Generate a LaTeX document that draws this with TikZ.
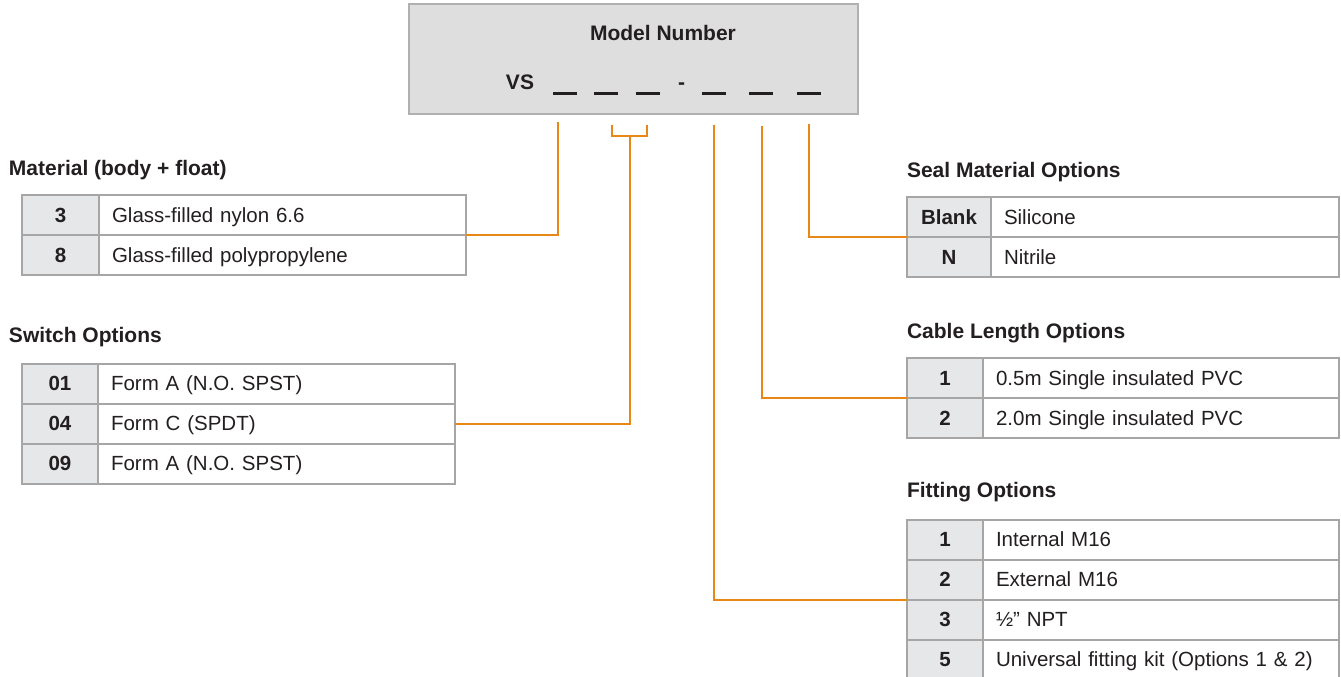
\documentclass[tikz,border=0pt]{standalone}
\usepackage{fontspec}
\setmainfont{Liberation Sans}
\definecolor{orng}{RGB}{232,135,22}
\definecolor{tblline}{RGB}{166,166,166}
\definecolor{keyfill}{RGB}{230,231,232}
\definecolor{boxfill}{RGB}{222,222,222}
\definecolor{boxline}{RGB}{176,176,176}
\definecolor{txt}{RGB}{35,31,32}
\newcommand{\cellstrut}{\rule[-5pt]{0pt}{24.6pt}}
\newcommand{\blankline}{\rule[-6pt]{24pt}{3pt}}
\begin{document}
\begin{tikzpicture}[x=1pt,y=-1pt,
  every node/.style={text=txt, outer sep=0pt},
  txtfont/.style={font=\fontsize{20.5}{24}\selectfont},
  boldfont/.style={font=\fontsize{21}{25}\selectfont\bfseries},
  title/.style={boldfont, anchor=base west, inner sep=0pt},
  modeltext/.style={boldfont, anchor=base, inner sep=0pt},
  keycell/.style={draw=tblline, line width=2pt, fill=keyfill, anchor=north west,
    inner sep=0pt, outer sep=0pt, font=\fontsize{20.5}{24}\selectfont\bfseries,
    minimum width=#1, execute at begin node=\cellstrut},
  valcell/.style={draw=tblline, line width=2pt, fill=white, anchor=north west,
    inner sep=0pt, outer sep=0pt, txtfont, minimum width=#1, text width=#1, align=left,
    execute at begin node=\hspace*{13pt}\cellstrut},
  rowA/.style={minimum height=40pt},
  conn/.style={draw=orng, line width=2pt},
]
\useasboundingbox (0,0) rectangle (1341,677);

% model number box
\node[draw=boxline, fill=boxfill, line width=2pt, anchor=north west,
  minimum width=449pt, minimum height=110pt, inner sep=0pt] (model) at (409,4) {};
\node[modeltext] (mn) at (663,41) {Model Number};
\node[modeltext] (vs) at (520,89) {VS};
\node[modeltext] (b1) at (565,89) {\blankline};
\node[modeltext] (b2) at (606,89) {\blankline};
\node[modeltext] (b3) at (647.5,89) {\blankline};
\node[modeltext] (dash) at (681.5,89) {-};
\node[modeltext] (b4) at (714,89) {\blankline};
\node[modeltext] (b5) at (761,89) {\blankline};
\node[modeltext] (b6) at (809,89) {\blankline};

% Material
\node[title] (tmat) at (9,175) {Material (body + float)};
\node[keycell=77pt, rowA] (mat1k) at (22,195) {3};
\node[valcell=367pt, rowA] (mat1v) at (mat1k.north east) {Glass-filled nylon 6.6};
\node[keycell=77pt, rowA] (mat2k) at (mat1k.south west) {8};
\node[valcell=367pt, rowA] (mat2v) at (mat2k.north east) {Glass-filled polypropylene};

% Switch
\node[title] (tsw) at (9,342) {Switch Options};
\node[keycell=76pt, rowA] (sw1k) at (22,363.5) {01};
\node[valcell=357pt, rowA] (sw1v) at (sw1k.north east) {Form A (N.O. SPST)};
\node[keycell=76pt, rowA] (sw2k) at (sw1k.south west) {04};
\node[valcell=357pt, rowA] (sw2v) at (sw2k.north east) {Form C (SPDT)};
\node[keycell=76pt, rowA] (sw3k) at (sw2k.south west) {09};
\node[valcell=357pt, rowA] (sw3v) at (sw3k.north east) {Form A (N.O. SPST)};

% Seal
\node[title] (tseal) at (907,177) {Seal Material Options};
\node[keycell=84pt, rowA] (seal1k) at (907,197) {Blank};
\node[valcell=348pt, rowA] (seal1v) at (seal1k.north east) {Silicone};
\node[keycell=84pt, rowA] (seal2k) at (seal1k.south west) {N};
\node[valcell=348pt, rowA] (seal2v) at (seal2k.north east) {Nitrile};

% Cable
\node[title] (tcab) at (907,338) {Cable Length Options};
\node[keycell=76pt, rowA] (cab1k) at (907,358) {1};
\node[valcell=356pt, rowA] (cab1v) at (cab1k.north east) {0.5m Single insulated PVC};
\node[keycell=76pt, rowA] (cab2k) at (cab1k.south west) {2};
\node[valcell=356pt, rowA] (cab2v) at (cab2k.north east) {2.0m Single insulated PVC};

% Fitting
\node[title] (tfit) at (907,497) {Fitting Options};
\node[keycell=76pt, rowA] (fit1k) at (907,519.5) {1};
\node[valcell=356pt, rowA] (fit1v) at (fit1k.north east) {Internal M16};
\node[keycell=76pt, rowA] (fit2k) at (fit1k.south west) {2};
\node[valcell=356pt, rowA] (fit2v) at (fit2k.north east) {External M16};
\node[keycell=76pt, rowA] (fit3k) at (fit2k.south west) {3};
\node[valcell=356pt, rowA] (fit3v) at (fit3k.north east) {½” NPT};
\node[keycell=76pt, rowA] (fit4k) at (fit3k.south west) {5};
\node[valcell=356pt, rowA] (fit4v) at (fit4k.north east) {Universal fitting kit (Options 1 \& 2)};

% connectors
\coordinate (tMat) at (558,122);
\draw[conn] (tMat) |- (mat1v.south east);
\coordinate (brL) at (612,125);
\coordinate (brR) at (647,125);
\coordinate (brM) at (629.5,136);
\draw[conn] (brL) |- (brR |- brM) -- (brR);
\draw[conn] (brM) |- (sw2v.east);
\coordinate (tFit) at (714,125);
\draw[conn] (tFit) |- (fit2k.south west);
\coordinate (tCab) at (762,126);
\draw[conn] (tCab) |- (cab1k.south west);
\coordinate (tSeal) at (809,124);
\draw[conn] (tSeal) |- (seal1k.south west);
\end{tikzpicture}
\end{document}
